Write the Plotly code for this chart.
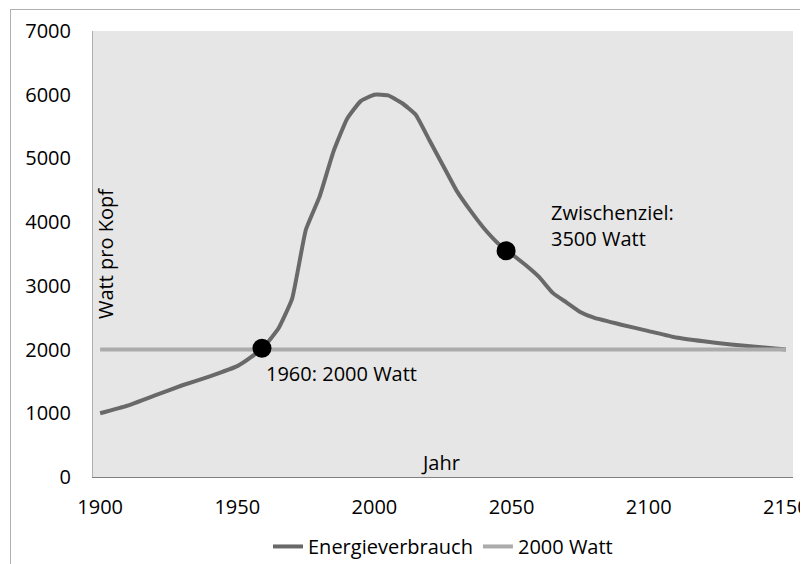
import plotly.graph_objects as go

years = [1900, 1910, 1920, 1930, 1940, 1950, 1955, 1960, 1965, 1970, 1975, 1980,
         1985, 1990, 1995, 2000, 2005, 2010, 2015, 2020, 2025, 2030, 2035, 2040,
         2045, 2050, 2055, 2060, 2065, 2070, 2075, 2080, 2090, 2100, 2110, 2120,
         2130, 2140, 2150]
energie = [1000, 1120, 1280, 1440, 1580, 1740, 1880, 2060, 2330, 2800, 3880, 4400,
           5100, 5620, 5900, 6000, 5990, 5870, 5690, 5290, 4890, 4490, 4180, 3900,
           3670, 3500, 3330, 3140, 2890, 2740, 2590, 2500, 2390, 2290, 2190, 2130,
           2080, 2040, 2000]
ziel_years = [1900, 2150]
ziel_values = [2000, 2000]
punkt_years = [1959, 2048]
punkt_values = [2020, 3550]

FONT = "Open Sans"
FS = 20
# page body has an 8px margin; figure placed at (8, 8)
W, H = 800, 556
L, T = 85, 23
pw, ph = 700, 446
R, B = W - L - pw, H - T - ph

fig = go.Figure()
fig.add_trace(go.Scatter(x=years, y=energie, mode="lines", name="Energieverbrauch",
                         line=dict(color="#696969", width=4, shape="spline", smoothing=0.4)))
fig.add_trace(go.Scatter(x=ziel_years, y=ziel_values, mode="lines", name="2000 Watt",
                         line=dict(color="#ababab", width=4)))
fig.add_trace(go.Scatter(x=punkt_years, y=punkt_values, mode="markers", showlegend=False,
                         marker=dict(color="black", size=19)))

fig.update_layout(
    width=W, height=H,
    margin=dict(l=L, r=R, t=T, b=B, autoexpand=False),
    paper_bgcolor="white", plot_bgcolor="#e6e6e6",
    font=dict(family=FONT, size=FS, color="black"),
    showlegend=True,
    legend=dict(orientation="h", x=0.5, xanchor="center", y=-0.112, yanchor="top",
                font=dict(size=FS), itemwidth=30, tracegroupgap=0, bgcolor="rgba(0,0,0,0)"),
    xaxis=dict(range=[1897.4, 2152.6], tickvals=[1900, 1950, 2000, 2050, 2100, 2150],
               showgrid=False, zeroline=False, showline=True, linecolor="#808080", linewidth=1,
               ticks="", ticklabelstandoff=12, ticklabeloverflow="allow", fixedrange=True),
    yaxis=dict(range=[0, 7000], tickvals=[0, 1000, 2000, 3000, 4000, 5000, 6000, 7000],
               showgrid=False, zeroline=False, showline=True, linecolor="#b0b0b0", linewidth=1,
               ticks="", ticklabelstandoff=17, fixedrange=True),
    annotations=[
        dict(text="Watt pro Kopf", xref="paper", yref="y", x=12 / pw, y=3500,
             textangle=-90, showarrow=False, xanchor="center", yanchor="middle",
             font=dict(size=FS)),
        dict(text="Jahr", xref="x", yref="y", x=2024, y=235, showarrow=False,
             xanchor="center", yanchor="middle", font=dict(size=FS)),
        dict(text="1960: 2000 Watt", xref="x", yref="y", x=1959.9, y=1630, showarrow=False,
             xanchor="left", yanchor="middle", font=dict(size=FS)),
        dict(text="Zwischenziel:<br>3500 Watt", xref="x", yref="y", x=2063.6, y=3950,
             showarrow=False, xanchor="left", yanchor="middle", align="left",
             font=dict(size=FS)),
    ],
    shapes=[
        dict(type="line", xref="paper", yref="paper", x0=(2 - L) / pw, x1=(W + 20 - L) / pw,
             y0=(H - B - 1.5) / ph, y1=(H - B - 1.5) / ph, line=dict(color="#b0b0b0", width=1)),
        dict(type="line", xref="paper", yref="paper", x0=(2.5 - L) / pw, x1=(2.5 - L) / pw,
             y0=(H - B - 1) / ph, y1=-(B + 20) / ph, line=dict(color="#b0b0b0", width=1)),
    ],
)

fig.write_html("out.html")
